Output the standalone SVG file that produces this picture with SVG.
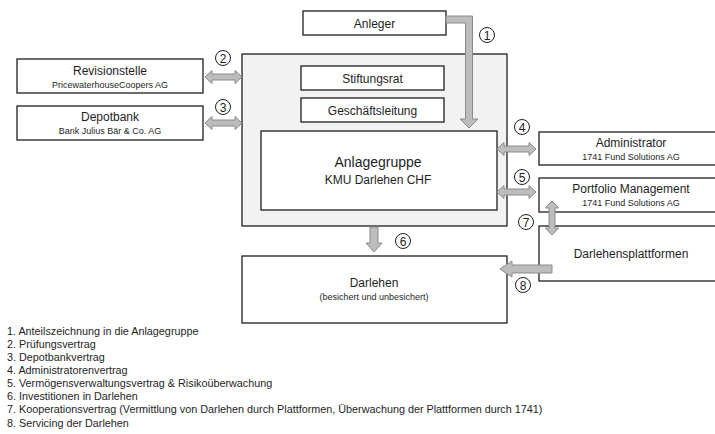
<svg xmlns="http://www.w3.org/2000/svg" width="715" height="434" viewBox="0 0 715 434">
<style>
.box{fill:#ffffff;stroke:#1e1e1e;stroke-width:1.3}
.cont{fill:#f2f2f2;stroke:#1e1e1e;stroke-width:1.3}
.arr{fill:#bdbdbd;stroke:#8a8a8a;stroke-width:1}
.num{fill:#ffffff;stroke:#1e1e1e;stroke-width:1}
text{font-family:"Liberation Sans",Arial,sans-serif;fill:#1e1e1e}
.t12{font-size:12px;text-anchor:middle}
.t14{font-size:14px;text-anchor:middle}
.s9{font-size:9px;text-anchor:middle}
.n{font-size:12px;text-anchor:middle}
.leg{font-size:10.8px}
</style>
<rect width="715" height="434" fill="#ffffff"/>
<g id="container"><rect class="cont" x="242" y="54" width="265" height="172"/></g>
<g id="anleger"><rect class="box" x="303" y="11" width="143" height="24"/><text class="t12" x="374.5" y="28">Anleger</text></g>
<g id="stiftungsrat"><rect class="box" x="301" y="66" width="143" height="24"/><text class="t12" x="372.5" y="83">Stiftungsrat</text></g>
<g id="geschaeftsleitung"><rect class="box" x="301" y="98" width="143" height="24"/><text class="t12" x="372.5" y="115">Geschäftsleitung</text></g>
<g id="anlagegruppe"><rect class="box" x="261" y="131" width="236" height="79"/><text class="t14" x="378" y="167">Anlagegruppe</text><text class="t12" x="378" y="184">KMU Darlehen CHF</text></g>
<g id="revisionstelle"><rect class="box" x="17" y="59" width="186" height="34"/><text class="t12" x="110" y="75">Revisionstelle</text><text class="s9" x="110" y="88">PricewaterhouseCoopers AG</text></g>
<g id="depotbank"><rect class="box" x="17" y="106" width="186" height="34"/><text class="t12" x="110" y="121">Depotbank</text><text class="s9" x="110" y="134">Bank Julius Bär &amp; Co. AG</text></g>
<g id="administrator"><rect class="box" x="539" y="132" width="186" height="33"/><text class="t12" x="631" y="147">Administrator</text><text class="s9" x="631" y="160">1741 Fund Solutions AG</text></g>
<g id="portfolio"><rect class="box" x="539" y="178" width="186" height="34"/><text class="t12" x="631" y="193">Portfolio Management</text><text class="s9" x="631" y="206">1741 Fund Solutions AG</text></g>
<g id="plattformen"><rect class="box" x="539" y="226" width="186" height="55"/><text class="t12" x="631" y="258">Darlehensplattformen</text></g>
<g id="darlehen"><rect class="box" x="242" y="256" width="265" height="67"/><text class="t12" x="374" y="287">Darlehen</text><text class="s9" x="374" y="300">(besichert und unbesichert)</text></g>
<g id="connectors">
<polygon class="arr" points="446,16 472.5,16 472.5,119 478,119 469,128 460,119 465.5,119 465.5,23 446,23"/>
<polygon class="arr" points="205,77 212,70.5 212,74 235,74 235,70.5 242,77 235,83.5 235,80 212,80 212,83.5"/>
<polygon class="arr" points="205,123 212,116.5 212,120 235,120 235,116.5 242,123 235,129.5 235,126 212,126 212,129.5"/>
<polygon class="arr" points="497,149 504,142.5 504,146 529,146 529,142.5 536,149 529,155.5 529,152 504,152 504,155.5"/>
<polygon class="arr" points="497,192 504,185.5 504,189 529,189 529,185.5 536,192 529,198.5 529,195 504,195 504,198.5"/>
<polygon class="arr" points="552,201 558.5,208 555,208 555,228 558.5,228 552,235 545.5,228 549,228 549,208 545.5,208"/>
<polygon class="arr" points="370,227 378,227 378,243 382,243 374,252 366,243 370,243"/>
<polygon class="arr" points="552,265 512,265 512,261 500,269 512,277 512,273 552,273"/>
</g>
<g id="numbers">
<circle class="num" cx="487" cy="35" r="7.5"/><text class="n" x="487" y="39.5">1</text>
<circle class="num" cx="223" cy="58" r="7.5"/><text class="n" x="223" y="62.5">2</text>
<circle class="num" cx="223" cy="107" r="7.5"/><text class="n" x="223" y="111.5">3</text>
<circle class="num" cx="522" cy="127" r="7.5"/><text class="n" x="522" y="131.5">4</text>
<circle class="num" cx="522" cy="177" r="7.5"/><text class="n" x="522" y="181.5">5</text>
<circle class="num" cx="403" cy="241" r="7.5"/><text class="n" x="403" y="245.5">6</text>
<circle class="num" cx="526" cy="222" r="7.5"/><text class="n" x="526" y="226.5">7</text>
<circle class="num" cx="523" cy="285" r="7.5"/><text class="n" x="523" y="289.5">8</text>
</g>
<g id="legend">
<text class="leg" x="7" y="334.5">1. Anteilszeichnung in die Anlagegruppe</text>
<text class="leg" x="7" y="347.6">2. Prüfungsvertrag</text>
<text class="leg" x="7" y="360.8">3. Depotbankvertrag</text>
<text class="leg" x="7" y="373.9">4. Administratorenvertrag</text>
<text class="leg" x="7" y="387.1">5. Vermögensverwaltungsvertrag &amp; Risikoüberwachung</text>
<text class="leg" x="7" y="400.2">6. Investitionen in Darlehen</text>
<text class="leg" x="7" y="413.4">7. Kooperationsvertrag (Vermittlung von Darlehen durch Plattformen, Überwachung der Plattformen durch 1741)</text>
<text class="leg" x="7" y="426.5">8. Servicing der Darlehen</text>
</g>
</svg>
